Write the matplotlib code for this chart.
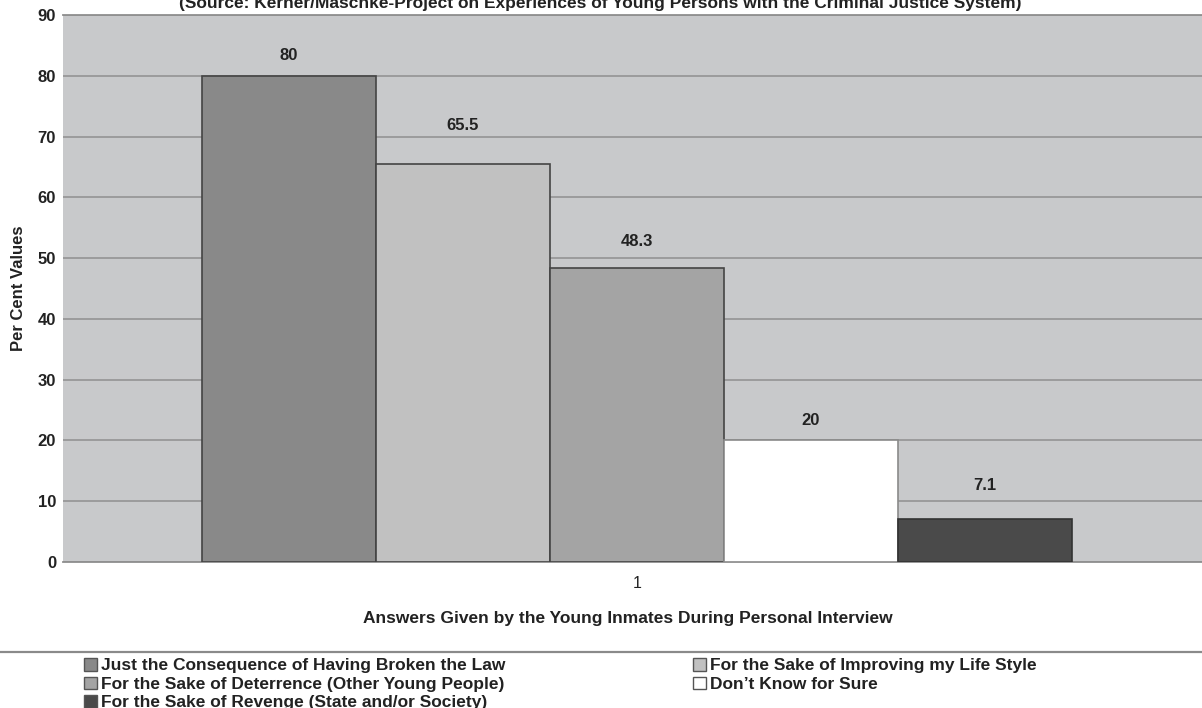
import matplotlib
matplotlib.use("Agg")
import matplotlib.pyplot as plt
from matplotlib.lines import Line2D
from matplotlib.patches import Patch

plt.rcParams['font.family'] = ['Liberation Sans', 'DejaVu Sans']

# answers and their shares (per cent)
answers = [
    "Just the Consequence of Having Broken the Law",
    "For the Sake of Improving my Life Style",
    "For the Sake of Deterrence (Other Young People)",
    "Don\u2019t Know for Sure",
    "For the Sake of Revenge (State and/or Society)",
]
values = [80, 65.5, 48.3, 20, 7.1]
fills = ["#898989", "#c1c1c1", "#a4a4a4", "#ffffff", "#4a4a4a"]
yticks = [0, 10, 20, 30, 40, 50, 60, 70, 80, 90]
# gap (pixels) between bar top and its value label
label_gap = [20, 38, 27, 20, 33]

W, H = 1202, 708
TXT = "#222222"
fig = plt.figure(figsize=(W / 100, H / 100), dpi=100)
ax = fig.add_axes([63 / W, 1 - 562 / H, 1 - 63 / W, (562 - 15) / H])
ax.set_facecolor("#c8c9cb")

n = len(values)
xs = [i - (n - 1) / 2 for i in range(n)]
edges = ["#444444", "#444444", "#444444", "#8a8a8a", "#333333"]
ax.bar(xs, values, width=1.0, color=fills, edgecolor=edges,
       linewidth=1.2, zorder=3)
for x, v, g in zip(xs, values, label_gap):
    ax.annotate(f"{v:g}", (x, v), xytext=(0, g * 0.72),
                textcoords="offset points", ha="center", va="center",
                fontsize=12, fontweight="bold", color=TXT)

# bar group centred at x=0, each bar one unit (~174 px) wide
ax.set_xlim(-574 / 174, 565 / 174)
ax.set_ylim(0, 90)
ax.set_yticks(yticks)
ax.set_yticklabels([str(t) for t in yticks], fontsize=12, fontweight="bold",
                   color=TXT)
ax.set_xticks([0])
ax.set_xticklabels(["1"], fontsize=11.5, color=TXT)
ax.tick_params(axis="y", length=0, pad=5)
ax.tick_params(axis="x", length=0, pad=10)
ax.yaxis.grid(True, color="#8f8f8f", linewidth=1.1, zorder=1)
ax.set_axisbelow(True)
for s in ax.spines.values():
    s.set_visible(False)
for side in ("top", "bottom"):
    ax.spines[side].set_visible(True)
    ax.spines[side].set_color("#8f8f8f")
    ax.spines[side].set_linewidth(1.3)

ax.set_ylabel("Per Cent Values", fontsize=12, fontweight="bold", color=TXT,
              va="center")
ax.yaxis.set_label_coords((19 - 63) / (W - 63), 0.5)
ax.set_xlabel("Answers Given by the Young Inmates During Personal Interview",
              fontsize=12.5, fontweight="bold", color=TXT, va="center")
ax.xaxis.set_label_coords((628 - 63) / (W - 63), -(618 - 562) / (562 - 15))

fig.text(600 / W, 1 - 8 / H,
         "(Source: Kerner/Maschke-Project on Experiences of Young Persons "
         "with the Criminal Justice System)",
         ha="center", va="baseline", fontsize=12.5, fontweight="bold",
         color=TXT)

# separator above the legend
fig.add_artist(Line2D([0, 1], [1 - 652 / H] * 2, color="#8a8a8a",
                      linewidth=1.6, transform=fig.transFigure))

handles = [Patch(facecolor=c, edgecolor="#555555", linewidth=1.0, label=a)
           for c, a in zip(fills, answers)]
leg_kw = dict(loc="upper left", frameon=False, handlelength=0.75,
              handleheight=0.75, handletextpad=0.25, labelspacing=0.18,
              borderpad=0, borderaxespad=0,
              prop={"size": 12.5, "weight": "bold"})
cols = [([0, 2, 4], 84), ([1, 3], 693)]
for idx, left in cols:
    leg = fig.legend([handles[i] for i in idx], [answers[i] for i in idx],
                     bbox_to_anchor=(left / W, 1 - 658 / H), **leg_kw)
    for t in leg.get_texts():
        t.set_color(TXT)

fig.savefig("out.png", dpi=100)
